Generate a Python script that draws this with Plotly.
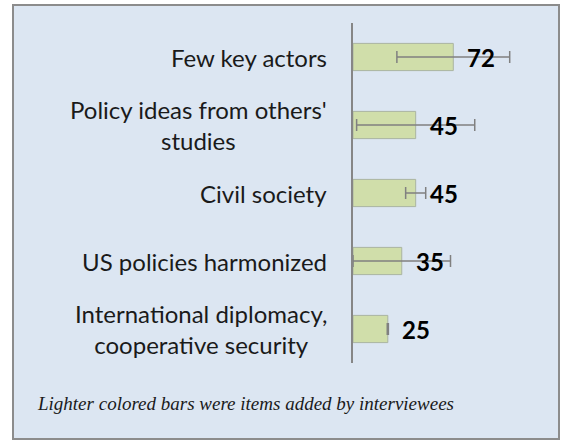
import plotly.graph_objects as go

categories = ["Few key actors", "Policy ideas from others'<br>studies", "Civil society",
              "US policies harmonized", "International diplomacy,<br>cooperative security"]
values = [72, 45, 45, 35, 25]
errors = [40.5, 42.4, 7.2, 35, 0.4]
value_labels = ["72", "45", "45", "35", "25"]
footnote = "Lighter colored bars were items added by interviewees"

W, H = 562, 441
L, R, T, B = 353, 14, 23, 78
pw = W - L - R
ph = H - T - B

def px_x(p):
    return (p - L) / pw

def px_y(p):
    return (H - B - p) / ph

fig = go.Figure()
fig.add_trace(go.Bar(
    x=values, y=categories, orientation="h",
    marker=dict(color="#d0deaa", line=dict(color="#aab4a0", width=1)),
    error_x=dict(type="data", array=errors, visible=True, color="#808080",
                 thickness=1.5, width=6),
    width=0.4, hoverinfo="skip",
))

ann = []
for c in categories:
    ann.append(dict(x=px_x(329), xref="paper", y=c, yref="y", text=c, showarrow=False,
                    xanchor="right", yanchor="middle", align="center",
                    font=dict(family="Lato", size=24, color="#1a1a1a")))
for c, v, t in zip(categories, values, value_labels):
    ann.append(dict(x=v, xref="x", y=c, yref="y", text="<b>" + t + "</b>", showarrow=False,
                    xanchor="left", yanchor="middle", xshift=12,
                    font=dict(family="Lato", size=24, color="#000000")))
ann.append(dict(x=px_x(35), xref="paper", y=px_y(403), yref="paper", text="<i>" + footnote + "</i>",
                showarrow=False, xanchor="left", yanchor="middle",
                font=dict(family="Liberation Serif", size=19, color="#1a1a1a")))

fig.update_layout(
    width=W, height=H,
    margin=dict(l=L, r=R, t=T, b=B),
    paper_bgcolor="white", plot_bgcolor="rgba(0,0,0,0)",
    showlegend=False,
    annotations=ann,
    shapes=[dict(type="rect", xref="paper", yref="paper",
                 x0=px_x(13), x1=px_x(559), y0=px_y(439), y1=px_y(5),
                 fillcolor="#dce6f2", line=dict(color="#8c8c8c", width=2), layer="below")],
    xaxis=dict(range=[0, 140], showgrid=False, zeroline=False, showticklabels=False,
               showline=False, fixedrange=True),
    yaxis=dict(autorange="reversed", showgrid=False, zeroline=False, showticklabels=False,
               showline=True, linecolor="#868686", linewidth=2, ticks="", fixedrange=True),
)

fig.write_html("out.html", config={"displayModeBar": False},
               post_script="document.body.style.margin='0';")
